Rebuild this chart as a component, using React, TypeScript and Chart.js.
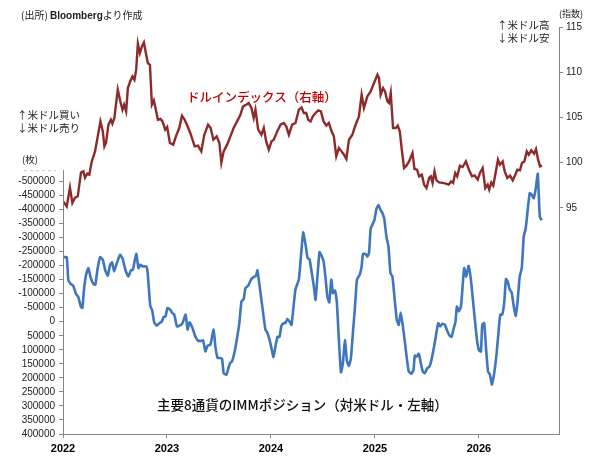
import { useEffect, useRef } from 'react'
import { Chart, registerables } from 'chart.js'

Chart.register(...registerables)

// ドルインデックス（右軸）: decimal year / index value
const dxyDates = [
  2022.003, 2022.036, 2022.067, 2022.090, 2022.116, 2022.142, 2022.173, 2022.196, 2022.212, 2022.234,
  2022.253, 2022.277, 2022.308, 2022.334, 2022.360, 2022.383, 2022.398, 2022.414, 2022.437, 2022.460,
  2022.475, 2022.494, 2022.527, 2022.552, 2022.572, 2022.588, 2022.607, 2022.624, 2022.646, 2022.668,
  2022.687, 2022.704, 2022.720, 2022.739, 2022.759, 2022.778, 2022.797, 2022.816, 2022.836, 2022.855,
  2022.874, 2022.893, 2022.913, 2022.938, 2022.957, 2022.983, 2023.002, 2023.028, 2023.060, 2023.086,
  2023.118, 2023.144, 2023.169, 2023.192, 2023.224, 2023.266, 2023.298, 2023.330, 2023.359, 2023.395,
  2023.420, 2023.446, 2023.478, 2023.504, 2023.523, 2023.545, 2023.578, 2023.610, 2023.641, 2023.674,
  2023.706, 2023.732, 2023.761, 2023.786, 2023.812, 2023.834, 2023.851, 2023.877, 2023.908, 2023.931,
  2023.954, 2023.979, 2024.005, 2024.027, 2024.060, 2024.092, 2024.123, 2024.147, 2024.172, 2024.204,
  2024.236, 2024.268, 2024.294, 2024.316, 2024.339, 2024.358, 2024.381, 2024.403, 2024.429, 2024.455,
  2024.480, 2024.506, 2024.532, 2024.557, 2024.583, 2024.605, 2024.628, 2024.653, 2024.679, 2024.702,
  2024.725, 2024.750, 2024.783, 2024.814, 2024.846, 2024.872, 2024.894, 2024.927, 2024.959, 2024.991,
  2025.024, 2025.039, 2025.055, 2025.078, 2025.097, 2025.120, 2025.135, 2025.152, 2025.174, 2025.200,
  2025.219, 2025.239, 2025.258, 2025.280, 2025.303, 2025.328, 2025.361, 2025.380, 2025.405, 2025.425,
  2025.451, 2025.473, 2025.496, 2025.521, 2025.537, 2025.554, 2025.573, 2025.592, 2025.617, 2025.650,
  2025.682, 2025.708, 2025.733, 2025.752, 2025.772, 2025.791, 2025.817, 2025.843, 2025.875, 2025.901,
  2025.933, 2025.959, 2025.988, 2026.010, 2026.036, 2026.061, 2026.084, 2026.099, 2026.119, 2026.138,
  2026.157, 2026.183, 2026.202, 2026.228, 2026.248, 2026.273, 2026.299, 2026.325, 2026.350, 2026.369,
  2026.395, 2026.414, 2026.437, 2026.460, 2026.479, 2026.504, 2026.530, 2026.549, 2026.569, 2026.588,
  2026.607,
]
const dxyValues = [
  95.72, 95.17, 97.24, 95.55, 96.13, 96.28, 98.90, 99.04, 98.34, 98.78,
  98.67, 100.14, 101.25, 102.91, 104.56, 103.46, 101.80, 102.21, 104.20, 104.75,
  104.31, 104.94, 108.07, 106.77, 105.86, 106.41, 105.67, 108.25, 108.98, 109.54,
  109.17, 110.28, 113.15, 112.12, 112.85, 113.29, 112.12, 111.02, 110.83, 106.41,
  106.88, 105.86, 104.75, 104.83, 104.56, 103.65, 103.94, 102.18, 101.99, 102.91,
  103.83, 105.19, 104.75, 104.20, 103.28, 101.80, 101.88, 101.25, 103.09, 104.20,
  103.83, 102.54, 102.91, 102.18, 100.00, 101.25, 101.99, 102.91, 103.83, 104.56,
  105.30, 106.22, 106.41, 106.60, 106.04, 104.94, 105.86, 103.65, 103.09, 103.83,
  102.35, 101.44, 102.35, 102.54, 103.46, 104.20, 104.39, 104.01, 103.09, 104.20,
  104.39, 105.86, 106.11, 105.49, 105.49, 104.75, 104.56, 105.12, 105.49, 105.78,
  105.67, 104.56, 104.09, 104.39, 103.46, 102.91, 100.70, 101.62, 101.25, 100.88,
  100.41, 102.54, 103.09, 104.20, 105.12, 107.51, 106.04, 107.33, 107.88, 108.81,
  109.72, 109.36, 107.51, 108.25, 107.88, 106.77, 106.60, 107.70, 103.83, 103.83,
  104.09, 103.46, 101.44, 99.41, 99.67, 100.14, 101.07, 99.30, 99.23, 98.49,
  98.67, 97.57, 97.20, 98.31, 98.49, 97.76, 99.04, 98.04, 97.82, 97.76,
  97.68, 97.57, 97.93, 97.76, 98.86, 98.49, 99.67, 99.52, 100.14, 99.30,
  98.49, 98.60, 98.12, 98.86, 99.41, 97.20, 97.57, 97.02, 97.82, 97.46,
  98.67, 100.33, 99.78, 100.14, 99.04, 98.31, 98.56, 98.04, 98.67, 99.23,
  99.15, 99.97, 100.14, 101.25, 100.88, 101.36, 100.99, 101.51, 100.33, 99.59,
  99.67,
]

// 主要8通貨のIMMポジション（左軸, 枚）
const immDates = [
  2022.003, 2022.036, 2022.051, 2022.074, 2022.099, 2022.125, 2022.147, 2022.171, 2022.186, 2022.202,
  2022.222, 2022.244, 2022.267, 2022.292, 2022.311, 2022.331, 2022.357, 2022.383, 2022.405, 2022.431,
  2022.453, 2022.472, 2022.492, 2022.518, 2022.549, 2022.575, 2022.600, 2022.629, 2022.653, 2022.672,
  2022.704, 2022.726, 2022.742, 2022.768, 2022.800, 2022.813, 2022.839, 2022.858, 2022.877, 2022.903,
  2022.928, 2022.951, 2022.967, 2022.986, 2023.005, 2023.031, 2023.051, 2023.070, 2023.096, 2023.121,
  2023.147, 2023.179, 2023.198, 2023.217, 2023.240, 2023.272, 2023.294, 2023.320, 2023.347, 2023.369,
  2023.391, 2023.417, 2023.449, 2023.465, 2023.487, 2023.513, 2023.530, 2023.545, 2023.571, 2023.587,
  2023.607, 2023.626, 2023.651, 2023.674, 2023.696, 2023.716, 2023.738, 2023.754, 2023.780, 2023.812,
  2023.834, 2023.857, 2023.870, 2023.889, 2023.908, 2023.931, 2023.947, 2023.966, 2023.986, 2024.005,
  2024.024, 2024.043, 2024.063, 2024.082, 2024.101, 2024.123, 2024.140, 2024.159, 2024.178, 2024.198,
  2024.217, 2024.236, 2024.268, 2024.291, 2024.310, 2024.333, 2024.352, 2024.371, 2024.390, 2024.410,
  2024.429, 2024.448, 2024.467, 2024.487, 2024.506, 2024.525, 2024.542, 2024.561, 2024.580, 2024.596,
  2024.615, 2024.634, 2024.653, 2024.673, 2024.692, 2024.711, 2024.731, 2024.750, 2024.769, 2024.788,
  2024.808, 2024.827, 2024.853, 2024.872, 2024.885, 2024.911, 2024.927, 2024.943, 2024.959, 2024.975,
  2024.995, 2025.014, 2025.033, 2025.053, 2025.072, 2025.091, 2025.110, 2025.130, 2025.149, 2025.168,
  2025.190, 2025.210, 2025.229, 2025.248, 2025.267, 2025.287, 2025.306, 2025.325, 2025.351, 2025.371,
  2025.383, 2025.402, 2025.422, 2025.441, 2025.460, 2025.479, 2025.499, 2025.525, 2025.544, 2025.563,
  2025.583, 2025.608, 2025.627, 2025.650, 2025.672, 2025.698, 2025.718, 2025.737, 2025.756, 2025.775,
  2025.788, 2025.807, 2025.827, 2025.843, 2025.858, 2025.878, 2025.901, 2025.923, 2025.942, 2025.961,
  2025.981, 2026.000, 2026.019, 2026.032, 2026.051, 2026.067, 2026.087, 2026.106, 2026.125, 2026.147,
  2026.167, 2026.186, 2026.205, 2026.224, 2026.244, 2026.260, 2026.277, 2026.296, 2026.315, 2026.335,
  2026.354, 2026.373, 2026.392, 2026.412, 2026.431, 2026.450, 2026.469, 2026.489, 2026.508, 2026.527,
  2026.547, 2026.566, 2026.585, 2026.604,
]
const immValues = [
  -230000, -230000, -149000, -135000, -128000, -99000, -88000, -54000, -49000, -114000,
  -167000, -191000, -156000, -134000, -132000, -185000, -230000, -221000, -185000, -164000,
  -203000, -211000, -179000, -209000, -238000, -223000, -185000, -161000, -183000, -185000,
  -242000, -191000, -203000, -197000, -197000, -179000, -57000, -40000, 2000, 14000,
  5000, -1000, -17000, -19000, -49000, -43000, -31000, -25000, 17000, 14000,
  7000, -25000, 28000, 2000, 17000, 52000, 66000, 69000, 66000, 106000,
  85000, 82000, 28000, 88000, 129000, 129000, 133000, 183000, 189000, 171000,
  147000, 141000, 106000, 58000, 5000, -72000, -81000, -120000, -128000, -152000,
  -159000, -164000, -183000, -132000, -78000, -13000, 28000, 40000, 64000, 94000,
  126000, 88000, 54000, 54000, 14000, 5000, 5000, -10000, -1000, 11000,
  -54000, -116000, -150000, -245000, -318000, -274000, -227000, -223000, -179000, -132000,
  -78000, -167000, -248000, -235000, -215000, -156000, -90000, -69000, -150000, -102000,
  -111000, -66000, 64000, 180000, 147000, 66000, 141000, 157000, 129000, 40000,
  -54000, -150000, -167000, -197000, -242000, -241000, -232000, -245000, -333000, -345000,
  -363000, -401000, -416000, -399000, -387000, -363000, -304000, -268000, -173000, -161000,
  -78000, -7000, 11000, -33000, 11000, 70000, 129000, 177000, 185000, 171000,
  121000, 124000, 114000, 147000, 177000, 183000, 168000, 159000, 135000, 100000,
  58000, 5000, 17000, 7000, 11000, 35000, 50000, 54000, 26000, -1000,
  -54000, -37000, -54000, -126000, -191000, -161000, -199000, -150000, -78000, -7000,
  64000, 102000, 106000, 11000, 5000, 88000, 177000, 189000, 224000, 183000,
  124000, 46000, -25000, -25000, -72000, -152000, -143000, -114000, -104000, -54000,
  -21000, -78000, -161000, -191000, -304000, -333000, -399000, -458000, -452000, -440000,
  -476000, -527000, -375000, -361000,
]

const yearTicks = [2022, 2023, 2024, 2025, 2026]
const leftTicks = [
  -500000, -450000, -400000, -350000, -300000, -250000, -200000, -150000, -100000, -50000,
  0, 50000, 100000, 150000, 200000, 250000, 300000, 350000, 400000,
]
const rightTicks = [95, 100, 105, 110, 115]

const NUM_FONT = '"Liberation Sans", Arial, sans-serif'
const JP_FONT = '"Noto Sans CJK JP", "Noto Sans", sans-serif'
const AXIS_GREY = '#868686'

function zip(xs: number[], ys: number[]) {
  const n = Math.min(xs.length, ys.length)
  const out: { x: number; y: number }[] = []
  for (let i = 0; i < n; i++) out.push({ x: xs[i], y: ys[i] })
  return out
}

// 左軸は上端まで伸びないので自前で描く
const leftAxisLine = {
  id: 'leftAxisLine',
  afterDraw(chart: any) {
    const { ctx, chartArea, scales } = chart
    const yTop = scales.y.getPixelForValue(-540000)
    ctx.save()
    ctx.strokeStyle = AXIS_GREY
    ctx.lineWidth = 1
    ctx.beginPath()
    ctx.moveTo(chartArea.left + 0.5, yTop)
    ctx.lineTo(chartArea.left + 0.5, chartArea.bottom)
    ctx.stroke()
    ctx.strokeStyle = '#c8c8c8'
    ctx.setLineDash([3, 3])
    ctx.beginPath()
    ctx.moveTo(24, yTop + 0.5)
    ctx.lineTo(56, yTop + 0.5)
    ctx.stroke()
    ctx.restore()
  },
}

function Label({ x, y, size, color = '#222', weight = 400, children, family = JP_FONT }: any) {
  return (
    <div
      style={{
        position: 'absolute',
        left: x,
        top: y,
        transform: 'translateY(-50%)',
        fontFamily: family,
        fontSize: size,
        fontWeight: weight,
        lineHeight: 1,
        color,
        whiteSpace: 'nowrap',
      }}
    >
      {children}
    </div>
  )
}

export default function App() {
  const chartRef = useRef<HTMLCanvasElement>(null)
  const chartInstance = useRef<Chart | null>(null)

  useEffect(() => {
    if (!chartRef.current) return
    if (chartInstance.current) chartInstance.current.destroy()
    const ctx = chartRef.current.getContext('2d')
    if (!ctx) return

    chartInstance.current = new Chart(ctx, {
      type: 'line',
      data: {
        datasets: [
          {
            label: 'ドルインデックス（右軸）',
            data: zip(dxyDates, dxyValues),
            yAxisID: 'y1',
            borderColor: '#8e2a2a',
            borderWidth: 2.4,
            pointRadius: 0,
            tension: 0,
          },
          {
            label: '主要8通貨のIMMポジション（対米ドル・左軸）',
            data: zip(immDates, immValues),
            yAxisID: 'y',
            borderColor: '#3f76bd',
            borderWidth: 2.6,
            pointRadius: 0,
            tension: 0.15,
          },
        ],
      },
      options: {
        responsive: false,
        animation: false,
        layout: { padding: { top: 27, left: 0, right: 0, bottom: 0 } },
        plugins: { legend: { display: false }, tooltip: { enabled: false } },
        scales: {
          x: {
            type: 'linear',
            min: 2022,
            max: 2026.77,
            afterBuildTicks: (s: any) => { s.ticks = yearTicks.map(v => ({ value: v })) },
            afterFit: (s: any) => { s.height = 30 },
            grid: { drawOnChartArea: false, tickLength: 4, color: AXIS_GREY },
            border: { color: AXIS_GREY, width: 1 },
            ticks: {
              padding: 4,
              maxRotation: 0,
              color: '#000',
              font: { family: NUM_FONT, size: 11, weight: 'bold' },
              callback: (v: any) => String(v),
            },
          },
          y: {
            position: 'left',
            reverse: true,
            min: -1050000,
            max: 400000,
            afterBuildTicks: (s: any) => { s.ticks = leftTicks.map(v => ({ value: v })) },
            afterFit: (s: any) => { s.width = 63 },
            grid: { drawOnChartArea: false, tickLength: 4, color: AXIS_GREY },
            border: { display: false },
            ticks: {
              padding: 4,
              color: '#222',
              font: { family: NUM_FONT, size: 10 },
              callback: (v: any) => String(v),
            },
          },
          y1: {
            position: 'right',
            min: 70,
            max: 115,
            afterBuildTicks: (s: any) => { s.ticks = rightTicks.map(v => ({ value: v })) },
            afterFit: (s: any) => { s.width = 45 },
            grid: { drawOnChartArea: false, tickLength: 4, color: AXIS_GREY },
            border: { color: AXIS_GREY, width: 1 },
            ticks: {
              padding: 3,
              color: '#222',
              font: { family: NUM_FONT, size: 10 },
              callback: (v: any) => String(v),
            },
          },
        },
      },
      plugins: [leftAxisLine],
    } as any)

    return () => {
      if (chartInstance.current) {
        chartInstance.current.destroy()
        chartInstance.current = null
      }
    }
  }, [])

  return (
    <div style={{ position: 'absolute', left: 0, top: 0, width: 604, height: 464, background: '#fff' }}>
      <canvas ref={chartRef} width={604} height={464} style={{ display: 'block' }} />
      <Label x={21} y={15} size={10}>
        (出所) <b style={{ fontFamily: NUM_FONT }}>Bloomberg</b>より作成
      </Label>
      <Label x={17} y={115} size={10.5}>↑米ドル買い</Label>
      <Label x={17} y={128} size={10.5}>↓米ドル売り</Label>
      <Label x={22} y={160} size={9.5}>(枚)</Label>
      <Label x={559} y={13} size={9}>(指数)</Label>
      <Label x={497} y={25} size={10.5}>↑米ドル高</Label>
      <Label x={497} y={38} size={10.5}>↓米ドル安</Label>
      <Label x={187} y={97} size={12.5} color="#c00000" weight={500}>ドルインデックス（右軸）</Label>
      <Label x={157} y={405} size={13.5} color="#111" weight={500}>主要8通貨のIMMポジション（対米ドル・左軸）</Label>
    </div>
  )
}
